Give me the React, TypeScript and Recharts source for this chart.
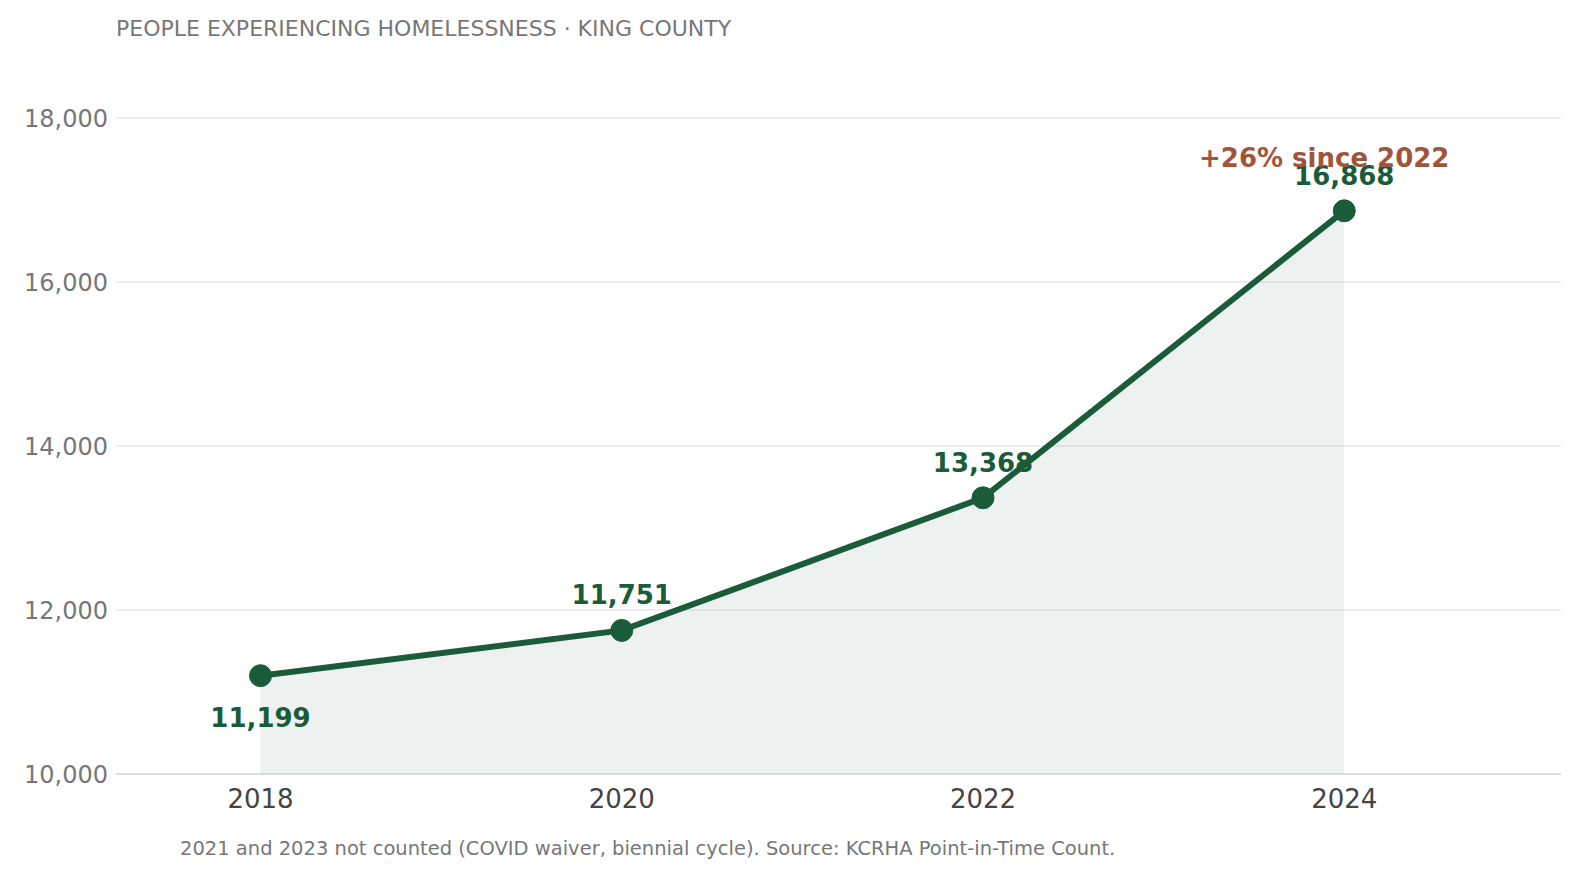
import { ComposedChart, Area, Line, XAxis, YAxis, CartesianGrid, LabelList } from "recharts";

const years = [2018, 2020, 2022, 2024];
const counts = [11199, 11751, 13368, 16868];
const yTicks = [10000, 12000, 14000, 16000, 18000];
const xTicks = [2018, 2020, 2022, 2024];
const title = "PEOPLE EXPERIENCING HOMELESSNESS · KING COUNTY";
const note = "2021 and 2023 not counted (COVID waiver, biennial cycle). Source: KCRHA Point-in-Time Count.";
const callout = "+26% since 2022";

const data = years.map((year, i) => ({ year, count: counts[i] }));
const GREEN = "#1a5c3a";
const FONT = "DejaVu Sans, sans-serif";

function renderLabel(props: any) {
  const { x, y, value, index } = props;
  const below = index === 0;
  return (
    <g>
      <text x={x} y={below ? y + 51 : y - 26} textAnchor="middle" fontSize={26} fontWeight={700} fill={GREEN} fontFamily={FONT}>
        {Number(value).toLocaleString("en-US")}
      </text>
      {index === years.length - 1 && (
        <text x={x - 20} y={y - 44} textAnchor="middle" fontSize={26} fontWeight={700} fill="#a0553a" fontFamily={FONT}>
          {callout}
        </text>
      )}
    </g>
  );
}

export default function App() {
  return (
    <div style={{ position: "absolute", left: 0, top: 0, width: 1579, height: 885, background: "#fff", fontFamily: FONT }}>
      <div style={{ position: "absolute", left: 116, top: 16, fontSize: 22, color: "#777" }}>{title}</div>
      <ComposedChart width={1579} height={885} data={data} margin={{ top: 118, right: 18, left: 0, bottom: 61 }}>
        <CartesianGrid vertical={false} stroke="#dddddd" />
        <XAxis
          dataKey="year"
          type="number"
          domain={[2017.2, 2025.2]}
          ticks={xTicks}
          tickLine={false}
          axisLine={{ stroke: "#cccccc" }}
          height={50}
          tick={{ fontSize: 26, fill: "#444", fontFamily: FONT, dy: 8 }}
        />
        <YAxis
          type="number"
          domain={[10000, 18000]}
          ticks={yTicks}
          width={116}
          tickLine={false}
          axisLine={false}
          tickFormatter={(v) => Number(v).toLocaleString("en-US")}
          tick={{ fontSize: 24, fill: "#777", fontFamily: FONT }}
        />
        <Area dataKey="count" type="linear" stroke="none" fill={GREEN} fillOpacity={0.08} isAnimationActive={false} />
        <Line
          dataKey="count"
          type="linear"
          stroke={GREEN}
          strokeWidth={6}
          dot={{ r: 11, fill: GREEN, stroke: GREEN, strokeWidth: 1 }}
          activeDot={false}
          isAnimationActive={false}
        >
          <LabelList dataKey="count" content={renderLabel} />
        </Line>
      </ComposedChart>
      <div style={{ position: "absolute", left: 180, top: 837, fontSize: 19.5, color: "#777" }}>{note}</div>
    </div>
  );
}
